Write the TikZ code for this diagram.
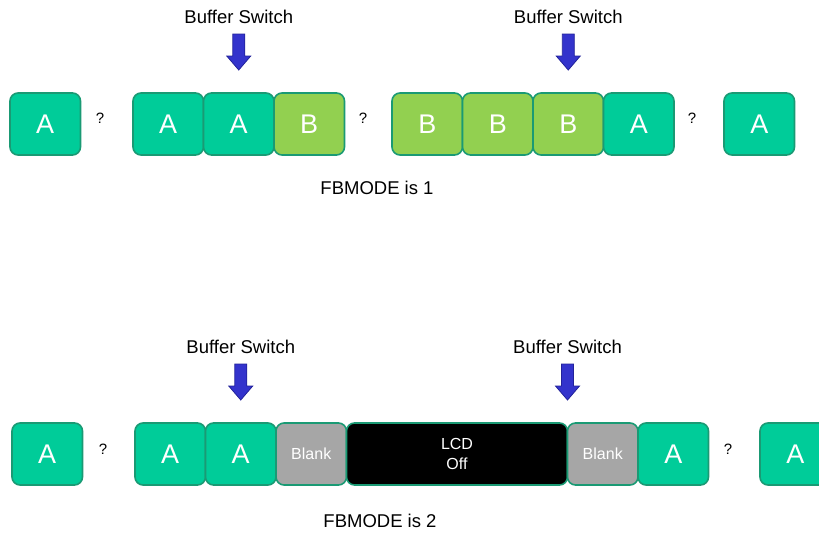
\documentclass[tikz,border=0pt]{standalone}
\usepackage{fontspec}
\setmainfont{Liberation Sans}
\usepackage{xcolor}
\usepackage{tikz}
\usetikzlibrary{calc, positioning}

\definecolor{frameA}{HTML}{00CC99}
\definecolor{frameB}{HTML}{92D050}
\definecolor{edgeG}{HTML}{1A9A74}
\definecolor{blankG}{HTML}{A6A6A6}
\definecolor{arrowF}{HTML}{3333CC}
\definecolor{arrowD}{HTML}{22229A}

\tikzset{
    frame/.style={draw=edgeG, line width=1.6pt, rounded corners=8pt,
        minimum width=70.5pt, minimum height=62pt, inner sep=0pt,
        outer sep=0pt, text=white, font=\fontsize{27}{27}\selectfont},
    fa/.style={frame, fill=frameA},
    fb/.style={frame, fill=frameB},
    blank/.style={frame, fill=blankG, font=\fontsize{16}{16}\selectfont},
    lcdoff/.style={frame, fill=black, minimum width=221pt, align=center,
        font=\fontsize{16}{20}\selectfont},
    qm/.style={font=\fontsize{15}{15}\selectfont},
    txt/.style={font=\fontsize{18.5}{18.5}\selectfont},
}

\begin{document}
\begin{tikzpicture}[x=1pt, y=1pt]
    \useasboundingbox (0,0) rectangle (819,-533);

    % Hàng trên: FBMODE = 1
    \node[fa] (t1) at (45.25,-124) {A};
    \node[qm] (tq1) at (100,-118) {?};
    \node[fa] (t2) at (168.25,-124) {A};
    \node[fa, right=0pt of t2] (t3) {A};
    \node[fb, right=0pt of t3] (t4) {B};
    \node[qm] (tq2) at (363,-118) {?};
    \node[fb] (t5) at (427.25,-124) {B};
    \node[fb, right=0pt of t5] (t6) {B};
    \node[fb, right=0pt of t6] (t7) {B};
    \node[fa, right=0pt of t7] (t8) {A};
    \node[qm] (tq3) at (692,-118) {?};
    \node[fa] (t9) at (759.25,-124) {A};
    \node[txt] (mode1) at (377,-188) {FBMODE is 1};

    % Hàng dưới: FBMODE = 2
    \node[fa] (b1) at (47.25,-454) {A};
    \node[qm] (bq1) at (103,-449) {?};
    \node[fa] (b2) at (170.25,-454) {A};
    \node[fa, right=0pt of b2] (b3) {A};
    \node[blank, right=0pt of b3] (b4) {Blank};
    \node[lcdoff, right=0pt of b4] (b5) {LCD\\Off};
    \node[blank, right=0pt of b5] (b6) {Blank};
    \node[fa, right=0pt of b6] (b7) {A};
    \node[qm] (bq2) at (728,-449) {?};
    \node[fa] (b8) at (795.25,-454) {A};
    \node[txt] (mode2) at (380,-521) {FBMODE is 2};

    % Mũi tên chuyển bộ đệm
    \foreach \p/\n in {t3.north/sw1, t7.north/sw2, b3.north/sw3, b5.north east/sw4} {
        \draw[arrowD, fill=arrowF, line width=0.8pt, line join=miter]
            ($(\p)+(0,23)$) -- ++(12,14) -- ++(-6,0) -- ++(0,22)
            -- ++(-12,0) -- ++(0,-22) -- ++(-6,0) -- cycle;
        \node[txt] (\n) at ($(\p)+(0,76)$) {Buffer Switch};
    }
\end{tikzpicture}
\end{document}
